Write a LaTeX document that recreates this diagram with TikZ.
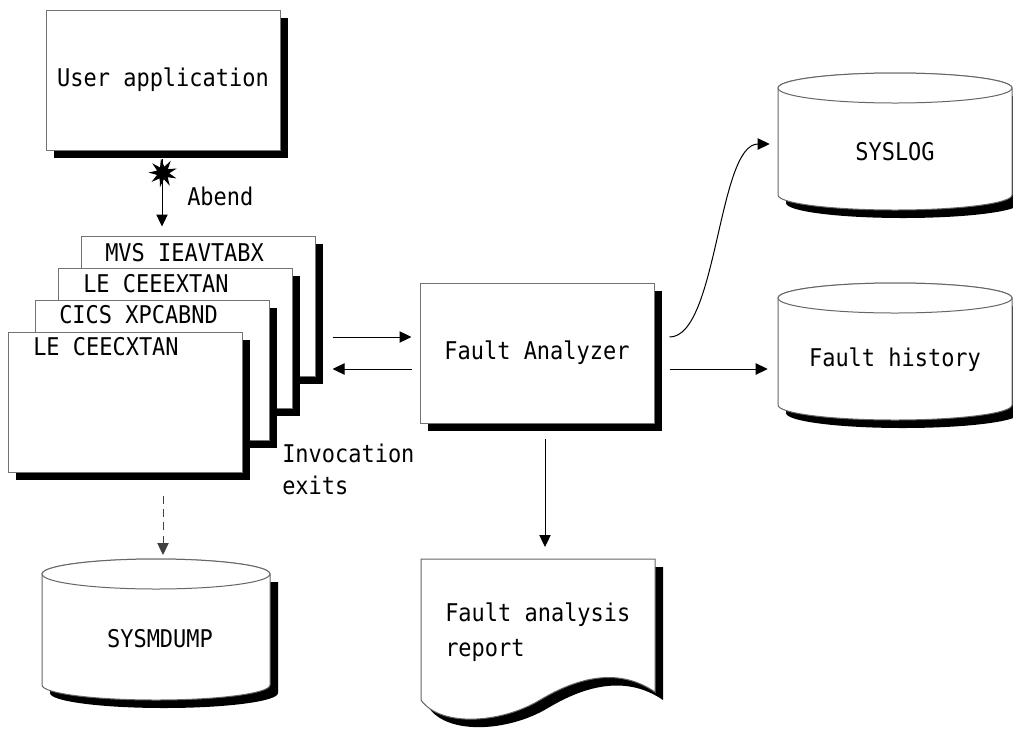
\documentclass[tikz,border=0pt]{standalone}
\usepackage{fontspec}
\newfontfamily\dmono[FakeStretch=0.9]{DejaVu Sans Mono}
\usetikzlibrary{shapes.geometric,arrows.meta,shadows,calc}
\newdimen\pxu \pxu=0.75pt
\newcommand\dbcyl[4]{%
  \fill[black,shift={(8,8)}] ({#1-#4},#2) -- ({#1-#4},#3) arc[start angle=180,end angle=0,x radius=#4,y radius=15] -- ({#1+#4},#2) -- cycle;
  \path[cylbody] ({#1-#4},#2) -- ({#1-#4},#3) arc[start angle=180,end angle=0,x radius=#4,y radius=15] -- ({#1+#4},#2) arc[start angle=0,end angle=-180,x radius=#4,y radius=15] -- cycle;
  \draw[cylbody] (#1,#2) ellipse[x radius=#4, y radius=15];
}
\begin{document}
\begin{tikzpicture}[x=0.75pt,y=-0.75pt,
  lbl/.style={font=\dmono\fontsize{18.3pt}{24pt}\selectfont, inner sep=0pt, text=black},
  box/.style={draw=black!55, line width=0.75pt, fill=white, inner sep=0pt,
    minimum width=234*\pxu, minimum height=140*\pxu,
    drop shadow={shadow xshift=6pt, shadow yshift=-6pt, fill=black, opacity=1}},
  arr/.style={-{Triangle[length=9pt,width=8.5pt]}, line width=0.75pt},
  cylbody/.style={fill=white, draw=black!60, line width=0.75pt}
]
\useasboundingbox (0,0) rectangle (1013,729);

% User application
\node[box, lbl] (ua) at (163,80) {User application};

% stacked invocation exits
\node[box] (s1) at (198,306) {};
\node[lbl, anchor=west] (t1) at (105,253) {MVS IEAVTABX};
\node[box] (s2) at (175,338) {};
\node[lbl, anchor=west] (t2) at (83,284) {LE CEEEXTAN};
\node[box] (s3) at (152,370) {};
\node[lbl, anchor=west] (t3) at (59,315) {CICS XPCABND};
\node[box] (s4) at (125,402) {};
\node[lbl, anchor=west] (t4) at (33,347) {LE CEECXTAN};

\node[lbl, align=left, anchor=north west] (inv) at (282,444) {Invocation\\exits};

% Fault Analyzer
\node[box, lbl] (fa) at (537,353) {Fault Analyzer};

% Databases
\dbcyl{895}{88}{195}{117}
\node[lbl, minimum width=234*\pxu] (syslog) at (895,152) {SYSLOG};
\dbcyl{895}{298}{405}{117}
\node[lbl, minimum width=234*\pxu] (fhist) at (895,360) {Fault history};
\dbcyl{156}{574}{685}{114}
\node[lbl] (sysm) at (160,639) {SYSMDUMP};
\coordinate (sdtop) at (163,558);

% Report document
\fill[black, shift={(8,8)}] (421,559) -- (655,559) -- (655,692)
  .. controls (620,668) and (580,676) .. (540,700)
  .. controls (500,724) and (440,727) .. (421,700) -- cycle;
\path[cylbody] (421,559) -- (655,559) -- (655,692)
  .. controls (620,668) and (580,676) .. (540,700)
  .. controls (500,724) and (440,727) .. (421,700) -- cycle;
\coordinate (reptop) at (545,559);
\node[lbl, align=left, anchor=north west] (rep) at (445,603) {Fault analysis\\[2pt]report};

% Connectors
\draw[arr] ($(ua.south)+(-1,8)$) -- ($(ua.south |- s1.north)+(-1,-9)$);
\node[star, star points=9, star point ratio=2.3, fill=black, inner sep=0pt, minimum size=29*\pxu, rotate=8] (boom) at (163,173) {};
\node[lbl, anchor=west] (abend) at (187,196) {Abend};

\draw[arr] ($(s1.east |- fa.west)+(17,-16)$) -- ($(fa.west)+(-8,-16)$);
\draw[arr] ($(fa.west)+(-8,16)$) -- ($(s1.east |- fa.west)+(17,16)$);

\draw[arr] ($(fa.east)+(15,-16)$) .. controls +(48,0) and +(-52,0) .. ($(syslog.west)+(-8,-8)$);
\draw[arr] ($(fa.east)+(15,16)$) -- ($(fhist.west |- fa.east)+(-10,16)$);

\draw[arr] ($(fa.south)+(8,15)$) -- ($(reptop)+(0,-12)$);

\draw[arr, dashed, draw=black!75, dash pattern=on 6pt off 4pt] ($(s4.south)+(38,23)$) -- ($(sdtop)+(0,-3)$);
\end{tikzpicture}
\end{document}
